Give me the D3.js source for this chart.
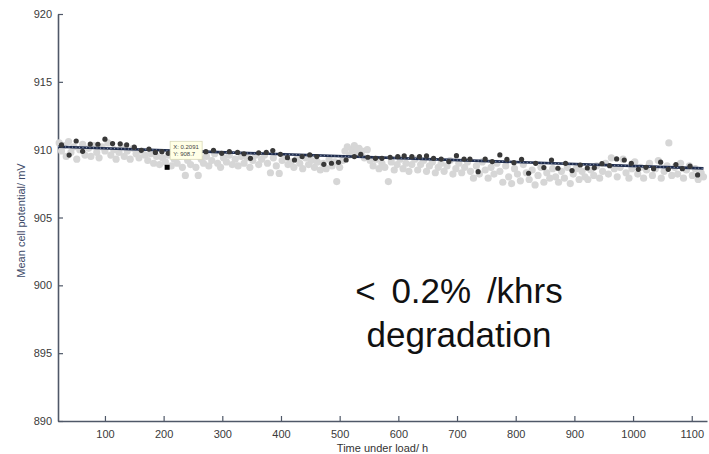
<!DOCTYPE html>
<html>
<head>
<meta charset="utf-8">
<script src="https://cdn.jsdelivr.net/npm/d3@7"></script>
<style>
  body { margin: 0; background: #fff; }
  svg { display: block; font-family: "Liberation Sans", Arial, sans-serif; }
</style>
</head>
<body>
<svg id="chart"></svg>
<script>
// x ticks (hours) and y ticks (mV)
var xTicks = [100, 200, 300, 400, 500, 600, 700, 800, 900, 1000, 1100];
var yTicks = [890, 895, 900, 905, 910, 915, 920];

// raw cell potential readings (light grey) [hours, mV]
var rawPoints = [
  [22,910.5],[26,909.9],[30,910.3],[34,909.5],[38,910.6],[42,909.8],[47,910.2],[52,909.3],[57,910.0],[62,910.4],[66,909.6],
  [72,910.1],[76,909.5],[81,910.3],[86,909.8],[90,909.4],[95,910.2],[100,909.9],[105,910.5],[110,909.6],[115,910.0],[119,909.3],
  [124,909.8],[128,910.2],[133,909.5],[138,909.9],[143,909.3],[148,910.1],[153,909.7],[158,909.4],[163,909.9],[168,909.6],
  [173,909.2],[178,909.7],[183,909.0],[188,909.5],[193,908.9],[198,909.4],[203,909.1],[208,909.6],[213,908.8],[218,909.3],
  [223,909.0],[228,909.5],[232,908.7],[237,908.1],[241,909.2],[246,908.9],[251,909.6],[255,908.7],[259,908.1],[264,909.3],[268,909.0],
  [273,909.5],[277,908.8],[282,909.2],[287,909.7],[292,909.0],[297,908.7],[302,909.4],[307,909.1],[312,909.6],[317,908.9],
  [322,909.3],[327,908.8],[332,909.5],[337,909.0],[342,909.4],[347,908.7],[352,909.2],[357,909.6],[362,908.9],[367,909.3],
  [372,909.6],[377,909.0],[382,908.3],[387,909.4],[392,908.8],[397,908.25],[402,909.2],[407,909.5],[412,908.9],[417,909.1],
  [422,908.7],[427,909.3],[432,909.0],[437,908.6],[442,909.4],[447,908.9],[452,909.2],[457,908.7],[462,909.1],[467,908.5],
  [472,909.0],[477,908.6],[482,909.3],[487,908.8],[492,909.1],[495,907.65],[500,908.7],[505,909.2],[509,909.9],[513,910.2],[517,909.6],
  [521,910.0],[525,910.3],[529,909.8],[533,910.1],[538,909.9],[542,909.4],[547,910.0],[552,909.2],[557,908.8],[562,909.3],[567,908.6],
  [572,909.0],[577,908.7],[583,907.65],[588,909.1],[593,908.5],[598,908.9],[603,909.3],[608,908.6],[613,909.0],[618,908.4],
  [623,908.9],[628,909.3],[633,908.5],[638,908.9],[643,909.2],[648,908.4],[653,908.8],[658,909.1],[663,908.3],[668,908.7],
  [673,909.0],[678,908.4],[683,908.8],[688,909.2],[693,908.2],[698,908.6],[703,909.0],[708,908.3],[713,908.7],[718,909.1],
  [723,908.4],[728,907.9],[733,908.8],[738,908.2],[743,909.1],[748,908.5],[753,907.9],[758,908.7],[763,908.2],[768,909.0],
  [773,908.4],[778,907.6],[783,908.8],[788,908.0],[793,907.5],[798,908.6],[803,908.2],[808,907.7],[813,908.9],[818,908.3],
  [823,907.8],[828,908.5],[833,907.4],[838,908.1],[843,908.7],[848,907.6],[853,908.3],[858,907.9],[863,908.6],[868,908.0],
  [873,907.6],[878,908.4],[883,907.9],[888,908.7],[893,907.5],[898,908.2],[903,908.6],[908,907.8],[913,908.4],[918,908.0],
  [923,907.8],[928,908.5],[933,908.1],[938,908.8],[943,907.9],[948,908.4],[953,909.0],[958,908.2],[963,909.4],[968,908.6],
  [973,908.0],[978,908.7],[983,909.3],[988,908.3],[993,907.9],[998,908.6],[1003,909.1],[1008,908.2],[1013,908.7],[1018,907.9],
  [1023,908.5],[1028,909.0],[1033,908.1],[1038,908.6],[1043,909.2],[1048,907.9],[1053,908.4],[1058,908.8],[1061,910.5],[1066,908.1],
  [1071,908.7],[1076,908.2],[1081,909.0],[1086,907.9],[1091,908.5],[1096,908.8],[1101,908.1],[1106,908.6],[1111,907.8],[1116,908.3],[1120,908.0]
];

// averaged readings (dark points) [hours, mV]
var meanPoints = [
  [26,910.35],[39,909.6],[51,910.64],[62,909.88],[75,910.41],[88,910.4],[100,910.77],[113,910.45],[126,910.43],[137,910.35],
  [150,910.18],[162,909.95],[175,910.04],[186,909.8],[197,909.85],[208,909.73],[220,909.8],[233,909.75],[246,909.8],[259,909.72],
  [272,909.85],[285,909.95],[299,909.73],[312,909.85],[326,909.8],[337,909.7],[348,909.36],[362,909.77],[375,909.8],[386,909.93],
  [399,909.66],[411,909.41],[423,909.24],[436,909.49],[449,909.61],[461,909.49],[473,908.92],[486,909.0],[498,909.07],[511,909.24],
  [525,909.49],[536,909.66],[548,909.44],[561,909.36],[572,909.36],[586,909.44],[599,909.49],[610,909.54],[623,909.49],[636,909.49],
  [648,909.54],[660,909.36],[673,909.31],[686,909.12],[699,909.56],[712,909.31],[722,909.31],[736,908.38],[748,909.31],[760,909.12],
  [773,909.61],[785,909.29],[797,909.04],[810,909.29],[822,908.26],[834,908.99],[848,908.68],[861,909.24],[872,908.63],[885,908.99],
  [896,908.46],[910,908.87],[922,908.65],[934,908.66],[947,908.97],[960,908.82],[972,909.32],[985,909.24],[997,908.99],[1009,908.55],
  [1022,908.7],[1035,908.6],[1047,909.08],[1060,908.55],[1073,908.9],[1084,908.6],[1097,908.78],[1110,908.14]
];

// linear fit ends
var fitTime = [20, 1120];
var fitVolt = [910.22, 908.62];

// data tip
var tipTime = 206;
var tipVolt = 908.7;
var tipLines = ["X: 0.2091", "Y: 908.7"];

var annotation = ["< 0.2% /khrs", "degradation"];

/** draw scatter chart */
function draw() {
  var margin = { top: 14, right: 2, bottom: 33, left: 58 },
    width = 709 - margin.left - margin.right,
    height = 454 - margin.top - margin.bottom;

  var svg = d3
    .select("#chart")
    .attr("width", width + margin.left + margin.right)
    .attr("height", height + margin.top + margin.bottom)
    .append("g")
    .attr("transform", "translate(" + margin.left + "," + margin.top + ")");

  var x = d3.scaleLinear().domain([20, 1126]).range([0, width]);
  var y = d3.scaleLinear().domain([890, 920]).range([height, 0]);

  // inward ticks like matlab
  var xAxis = d3.axisBottom(x).tickValues(xTicks).tickFormat(d3.format("d"))
    .tickSizeInner(-5).tickSizeOuter(0).tickPadding(9);
  var yAxis = d3.axisLeft(y).tickValues(yTicks).tickFormat(d3.format("d"))
    .tickSizeInner(-5).tickSizeOuter(0).tickPadding(6);

  var axisColor = "#4f5868";

  var gx = svg
    .append("g")
    .attr("class", "x axis")
    .attr("transform", "translate(0," + height + ")")
    .call(xAxis);

  var gy = svg.append("g").attr("class", "y axis").call(yAxis);

  [gx, gy].forEach(function (g) {
    g.select(".domain").attr("stroke", axisColor).attr("stroke-width", 1.6);
    g.selectAll(".tick line").attr("stroke", axisColor).attr("stroke-width", 1.2);
    g.selectAll(".tick text").attr("fill", "#3a3a3a").style("font-size", "11px");
  });

  // raw readings
  svg
    .append("g")
    .selectAll("circle")
    .data(rawPoints)
    .enter()
    .append("circle")
    .attr("cx", function (d) { return x(d[0]); })
    .attr("cy", function (d) { return y(d[1]); })
    .attr("r", 3.6)
    .style("fill", "#d6d6d6");

  // fit line
  var fitData = fitTime.map(function (t, i) { return [t, fitVolt[i]]; });
  var line = d3.line()
    .x(function (d) { return x(d[0]); })
    .y(function (d) { return y(d[1]); });

  svg.append("path")
    .datum(fitData)
    .attr("d", line)
    .style("fill", "none")
    .style("stroke", "#1f2c4c")
    .style("stroke-width", 2.6);

  svg.append("path")
    .datum(fitData)
    .attr("d", line)
    .style("fill", "none")
    .style("stroke", "#9aa8c4")
    .style("stroke-width", 0.9)
    .style("stroke-dasharray", "1,2.5");

  // mean readings
  svg
    .append("g")
    .selectAll("circle")
    .data(meanPoints)
    .enter()
    .append("circle")
    .attr("cx", function (d) { return x(d[0]); })
    .attr("cy", function (d) { return y(d[1]); })
    .attr("r", 2.6)
    .style("fill", "#383838");

  // data tip marker + box
  svg.append("rect")
    .attr("x", x(tipTime) - 2.5)
    .attr("y", y(tipVolt) - 2.5)
    .attr("width", 5)
    .attr("height", 5)
    .style("fill", "#000");

  var tip = svg.append("g")
    .attr("transform", "translate(" + (x(tipTime) + 3) + "," + (y(tipVolt) - 26) + ")");
  tip.append("rect")
    .attr("width", 32)
    .attr("height", 18)
    .style("fill", "#ffffe6")
    .style("stroke", "#d8d8b8")
    .style("stroke-width", 0.8);
  tip.selectAll("text")
    .data(tipLines)
    .enter()
    .append("text")
    .attr("x", 3)
    .attr("y", function (d, i) { return 7.5 + i * 7.5; })
    .style("font-size", "6px")
    .style("fill", "#444")
    .text(function (d) { return d; });

  // axis labels
  svg.append("text")
    .attr("text-anchor", "middle")
    .attr("x", width / 2)
    .attr("y", height + 31)
    .style("font-size", "11px")
    .style("fill", "#333")
    .text("Time under load/ h");

  svg.append("text")
    .attr("text-anchor", "middle")
    .attr("transform", "translate(" + -33 + "," + (height / 2 + 3) + ") rotate(-90)")
    .style("font-size", "11px")
    .style("fill", "#3d4a68")
    .text("Mean cell potential/ mV");

  // annotation
  svg.selectAll(".note")
    .data(annotation)
    .enter()
    .append("text")
    .attr("class", "note")
    .attr("text-anchor", "middle")
    .attr("x", 401)
    .attr("y", function (d, i) { return 289 + i * 44; })
    .style("font-size", "35px")
    .style("word-spacing", "6px")
    .style("fill", "#111")
    .text(function (d) { return d; });
}

draw();
</script>
</body>
</html>
